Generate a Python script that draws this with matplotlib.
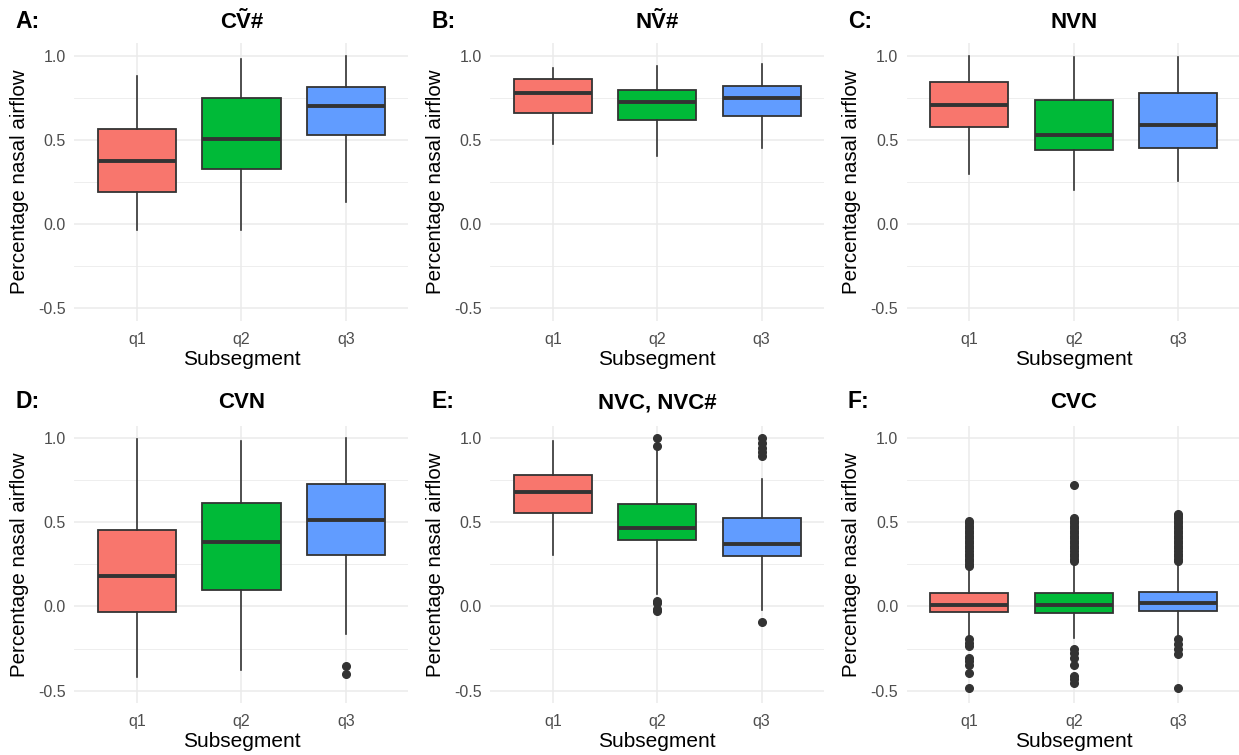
import matplotlib
matplotlib.use("Agg")
import matplotlib.pyplot as plt
from matplotlib.ticker import MultipleLocator

plt.rcParams['font.family'] = ['Liberation Sans', 'DejaVu Sans']

# categories and colours
groups = ["q1", "q2", "q3"]
fills = ["#F8766D", "#00BA38", "#619CFF"]

letters = ["A:", "B:", "C:", "D:", "E:", "F:"]
titles = ["C\u1e7c#", "N\u1e7c#", "NVN", "CVN", "NVC, NVC#", "CVC"]

# box summaries per panel: [whislo, q1, median, q3, whishi] for q1, q2, q3
A_stats = [[-0.035, 0.19, 0.375, 0.565, 0.88],
           [-0.035, 0.325, 0.505, 0.745, 0.98],
           [0.13, 0.525, 0.70, 0.815, 1.0]]
B_stats = [[0.473, 0.657, 0.775, 0.86, 0.925],
           [0.404, 0.62, 0.725, 0.794, 0.94],
           [0.45, 0.638, 0.75, 0.82, 0.95]]
C_stats = [[0.294, 0.574, 0.706, 0.844, 1.0],
           [0.20, 0.438, 0.53, 0.738, 0.994],
           [0.254, 0.452, 0.588, 0.777, 0.994]]
D_stats = [[-0.418, -0.03, 0.18, 0.457, 0.998],
           [-0.378, 0.101, 0.385, 0.618, 0.986],
           [-0.163, 0.308, 0.513, 0.73, 1.0]]
E_stats = [[0.307, 0.557, 0.679, 0.781, 0.984],
           [0.075, 0.396, 0.468, 0.612, 0.93],
           [-0.02, 0.301, 0.37, 0.524, 0.76]]
F_stats = [[-0.175, -0.032, 0.008, 0.078, 0.225],
           [-0.19, -0.036, 0.01, 0.082, 0.25],
           [-0.175, -0.026, 0.018, 0.088, 0.255]]

# outliers
A_out = [[], [], []]
B_out = [[], [], []]
C_out = [[], [], []]
D_out = [[], [], [-0.352, -0.40]]
E_out = [[],
         [1.0, 0.955, 0.035, 0.02, -0.014, -0.024],
         [1.0, 0.975, 0.945, 0.917, 0.896, -0.093]]
F_out = [[0.24, 0.255, 0.27, 0.285, 0.30, 0.315, 0.33, 0.345, 0.36, 0.375, 0.39,
          0.405, 0.42, 0.435, 0.45, 0.465, 0.48, 0.495, 0.51,
          -0.195, -0.215, -0.235, -0.305, -0.325, -0.345, -0.395, -0.484],
         [0.27, 0.285, 0.30, 0.315, 0.33, 0.345, 0.36, 0.375, 0.39, 0.405, 0.42,
          0.435, 0.45, 0.465, 0.48, 0.495, 0.51, 0.525, 0.72,
          -0.255, -0.275, -0.305, -0.345, -0.414, -0.434, -0.454],
         [0.27, 0.285, 0.30, 0.315, 0.33, 0.345, 0.36, 0.375, 0.39, 0.405, 0.42,
          0.435, 0.45, 0.465, 0.48, 0.495, 0.51, 0.525, 0.54, 0.55,
          -0.195, -0.225, -0.255, -0.285, -0.484]]

all_stats = [A_stats, B_stats, C_stats, D_stats, E_stats, F_stats]
all_out = [A_out, B_out, C_out, D_out, E_out, F_out]

W, H = 1239, 755
fig = plt.figure(figsize=(W / 100, H / 100), dpi=100)

lefts = [74.4, 490.3, 906.7]
tops = [43.0, 425.7]
ax_w, ax_h = 334.0, 277.5
title_base = [28, 408]

for i in range(6):
    r, c = divmod(i, 3)
    ax = fig.add_axes([lefts[c] / W, 1 - (tops[r] + ax_h) / H, ax_w / W, ax_h / H])
    stats = []
    for g in range(3):
        lo, q1, med, q3, hi = all_stats[i][g]
        stats.append(dict(whislo=lo, q1=q1, med=med, q3=q3, whishi=hi,
                          fliers=all_out[i][g], label=groups[g]))
    bp = ax.bxp(stats, positions=[1, 2, 3], widths=0.75, patch_artist=True,
                showcaps=False,
                boxprops=dict(edgecolor="#333333", linewidth=1.3),
                medianprops=dict(color="#333333", linewidth=2.8, solid_capstyle="butt"),
                whiskerprops=dict(color="#333333", linewidth=1.2),
                flierprops=dict(marker="o", markerfacecolor="#333333",
                                markeredgecolor="#333333", markersize=5.5))
    for patch, col in zip(bp["boxes"], fills):
        patch.set_facecolor(col)
    for z in bp["boxes"] + bp["medians"] + bp["whiskers"] + bp["fliers"]:
        z.set_zorder(3)

    ax.set_xlim(0.4, 3.6)
    ax.set_ylim(-0.575, 1.075)
    ax.yaxis.set_major_locator(MultipleLocator(0.5))
    ax.yaxis.set_minor_locator(MultipleLocator(0.25))
    ax.set_yticks([-0.5, 0.0, 0.5, 1.0])
    ax.set_yticklabels(["-0.5", "0.0", "0.5", "1.0"])
    ax.grid(True, which="major", color="#ebebeb", linewidth=1.1)
    ax.grid(True, which="minor", axis="y", color="#ebebeb", linewidth=0.6)
    ax.set_axisbelow(True)
    for s in ax.spines.values():
        s.set_visible(False)
    ax.tick_params(axis="both", which="both", length=0, labelsize=11.5,
                   labelcolor="#4d4d4d")
    ax.tick_params(axis="x", pad=8)
    ax.tick_params(axis="y", pad=6)
    ax.set_xlabel("Subsegment", fontsize=15)
    ax.set_ylabel("Percentage nasal airflow", fontsize=14.8)
    ax.xaxis.set_label_coords(0.5, -0.105)
    ax.yaxis.set_label_coords(-0.137, 0.5)

    fig.text((lefts[c] - 59) / W, 1 - title_base[r] / H, letters[i], fontsize=16.5,
             fontweight="bold", va="baseline", ha="left")
    fig.text((lefts[c] + ax_w / 2) / W, 1 - title_base[r] / H, titles[i],
             fontsize=16, fontweight="bold", va="baseline", ha="center")

fig.savefig("out.png", dpi=100)
